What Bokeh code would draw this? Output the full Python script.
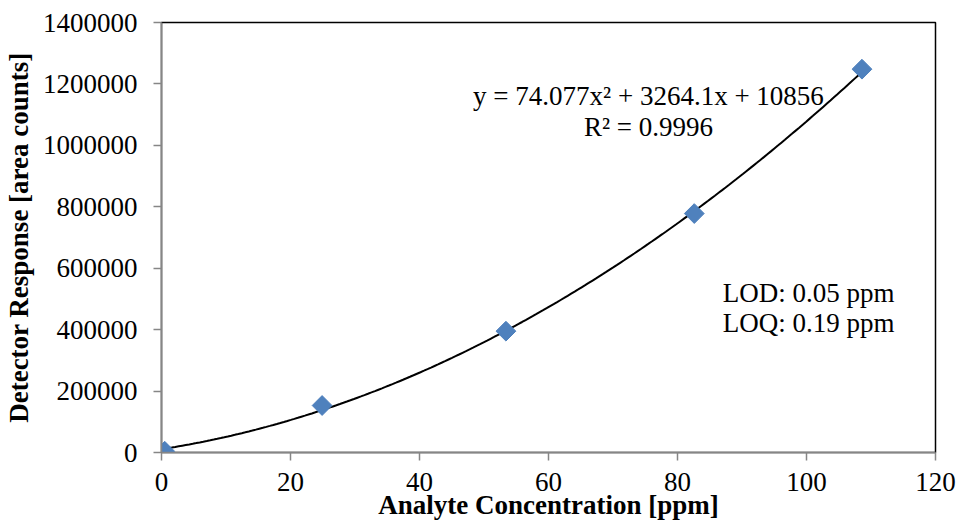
import numpy as np
from bokeh.plotting import figure
from bokeh.models import Label, FixedTicker, Range1d
from bokeh.embed import file_html
from bokeh.resources import INLINE

# data
conc = [0.5, 24.9, 53.4, 82.6, 108.6]
response = [4000, 153000, 395000, 778000, 1248000]
# trendline coefficients shown on the chart
a2, a1, a0 = 74.077, 3264.1, 10856
eq_text = "y = 74.077x\u00b2 + 3264.1x + 10856"
r2_text = "R\u00b2 = 0.9996"
lod_text = "LOD: 0.05 ppm"
loq_text = "LOQ: 0.19 ppm"
x_ticks = [0, 20, 40, 60, 80, 100, 120]
y_ticks = [0, 200000, 400000, 600000, 800000, 1000000, 1200000, 1400000]

FONT = "Liberation Serif"
GRAY = "#868686"

p = figure(width=958, height=525, output_backend="svg", toolbar_location=None,
           x_range=Range1d(0, 120), y_range=Range1d(0, 1400000),
           min_border_left=161, min_border_right=23, min_border_top=22, min_border_bottom=73)
p.grid.visible = False
p.outline_line_color = "black"
p.outline_line_width = 1.5
p.background_fill_color = "white"
p.border_fill_color = "white"

for ax in (p.xaxis[0], p.yaxis[0]):
    ax.axis_line_color = GRAY
    ax.axis_line_width = 1.5
    ax.major_tick_line_color = GRAY
    ax.major_tick_line_width = 1.5
    ax.major_tick_out = 8
    ax.major_tick_in = 0
    ax.minor_tick_line_color = None
    ax.major_label_text_font = FONT
    ax.major_label_text_font_size = "27px"
    ax.major_label_text_color = "black"
    ax.axis_label_text_font = FONT
    ax.axis_label_text_font_style = "bold"
    ax.axis_label_text_font_size = "27px"
    ax.axis_label_text_color = "black"

p.xaxis[0].ticker = FixedTicker(ticks=x_ticks)
p.yaxis[0].ticker = FixedTicker(ticks=y_ticks)
p.yaxis[0].formatter.use_scientific = False
p.xaxis.axis_label = "Analyte Concentration [ppm]"
p.yaxis.axis_label = "Detector Response [area counts]"
p.xaxis[0].major_label_standoff = 12
p.xaxis[0].axis_label_standoff = -4
p.yaxis[0].major_label_standoff = 16
p.yaxis[0].axis_label_standoff = 6

xs = np.linspace(min(conc), max(conc), 200)
ys = a2 * xs ** 2 + a1 * xs + a0
p.line(xs, ys, line_color="black", line_width=2)

p.scatter(conc, response, marker="square", size=14, angle=np.pi / 4,
          fill_color="#4F81BD", line_color="#4F81BD")

for txt, x, y, align in [(eq_text, 75.5, 1162000, "center"), (r2_text, 75.5, 1060000, "center"),
                         (lod_text, 87.0, 520000, "left"), (loq_text, 87.0, 422000, "left")]:
    p.add_layout(Label(x=x, y=y, text=txt, text_font=FONT, text_font_size="27px",
                       text_align=align, text_baseline="middle", text_color="black"))

open("out.html", "w").write(file_html(p, INLINE))
